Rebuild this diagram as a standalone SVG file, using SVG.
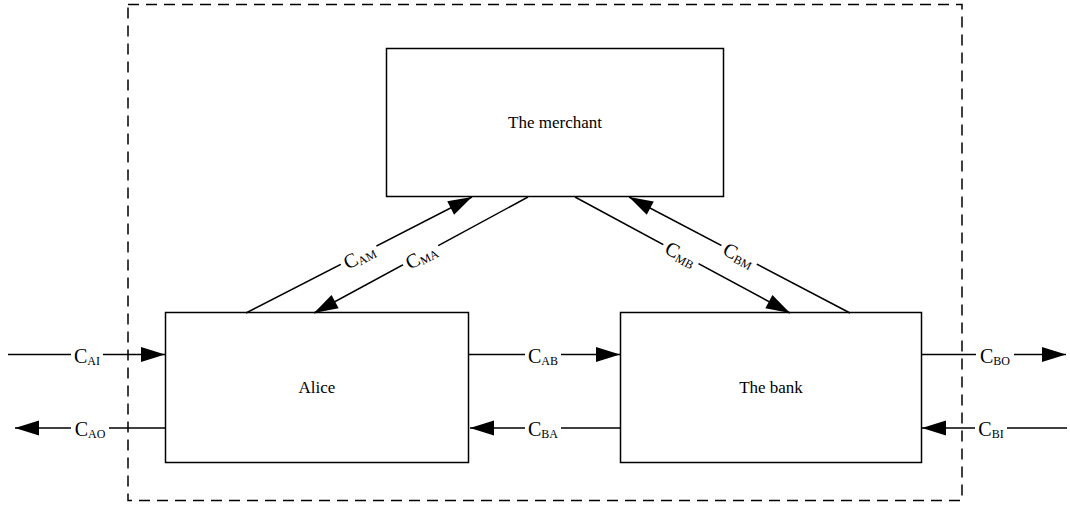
<svg xmlns="http://www.w3.org/2000/svg" width="1070" height="507" viewBox="0 0 1070 507">
<style>
.box{fill:#fff;stroke:#000;stroke-width:1.5}
.ln{fill:none;stroke:#000;stroke-width:1.5}
.arr{marker-end:url(#ah)}
.t{font-family:"Liberation Serif","Times New Roman",serif;font-size:17px;fill:#000;text-anchor:middle}
.lb{font-family:"Liberation Serif","Times New Roman",serif;font-size:20px;fill:#000;text-anchor:middle}
.sub{font-size:12px}
.bg{fill:#fff}
</style>
<defs>
<marker id="ah" markerUnits="userSpaceOnUse" markerWidth="26" markerHeight="16" viewBox="-25 -8 26 16" refX="0" refY="0" orient="auto">
<path d="M0,0 L-24,-7.5 L-24,7.5 Z" fill="#000"/>
</marker>
</defs>
<rect x="128" y="4.5" width="834" height="496" fill="none" stroke="#000" stroke-width="1.5" stroke-dasharray="11,7"/>
<g id="merchant"><rect class="box" x="386.5" y="48.5" width="337" height="148"/><text class="t" x="555" y="128">The merchant</text></g>
<g id="alice"><rect class="box" x="165.5" y="312.5" width="303" height="150"/><text class="t" x="317" y="393">Alice</text></g>
<g id="bank"><rect class="box" x="620.5" y="312.5" width="301" height="150"/><text class="t" x="771" y="393">The bank</text></g>
<g id="connectors">
<path class="ln arr" d="M246,313 L472,197"/>
<path class="ln arr" d="M528,197 L314,313"/>
<path class="ln arr" d="M575,197 L790,313"/>
<path class="ln arr" d="M850,313 L629,197"/>
<path class="ln arr" d="M8,354.5 L165,354.5"/>
<path class="ln arr" d="M165,428 L15,428"/>
<path class="ln arr" d="M468,354.5 L620,354.5"/>
<path class="ln arr" d="M620,428 L470,428"/>
<path class="ln arr" d="M921,354.5 L1066,354.5"/>
<path class="ln arr" d="M1067,428 L922,428"/>
<g transform="translate(359,256) rotate(-27.2)"><rect class="bg" x="-20" y="-9" width="40" height="18"/><text class="lb" x="0" y="7">C<tspan class="sub" dy="2">AM</tspan></text></g>
<g transform="translate(421,256) rotate(-28.5)"><rect class="bg" x="-20" y="-9" width="40" height="18"/><text class="lb" x="0" y="7">C<tspan class="sub" dy="2">MA</tspan></text></g>
<g transform="translate(681,254) rotate(28.4)"><rect class="bg" x="-20" y="-9" width="40" height="18"/><text class="lb" x="0" y="7">C<tspan class="sub" dy="2">MB</tspan></text></g>
<g transform="translate(739,255) rotate(27.7)"><rect class="bg" x="-20" y="-9" width="40" height="18"/><text class="lb" x="0" y="7">C<tspan class="sub" dy="2">BM</tspan></text></g>
<g transform="translate(87,354.5)"><rect class="bg" x="-16" y="-9" width="32" height="18"/><text class="lb" x="0" y="8">C<tspan class="sub" dy="2">AI</tspan></text></g>
<g transform="translate(90,428)"><rect class="bg" x="-19" y="-9" width="38" height="18"/><text class="lb" x="0" y="8">C<tspan class="sub" dy="2">AO</tspan></text></g>
<g transform="translate(543,354.5)"><rect class="bg" x="-18" y="-9" width="36" height="18"/><text class="lb" x="0" y="8">C<tspan class="sub" dy="2">AB</tspan></text></g>
<g transform="translate(543,428)"><rect class="bg" x="-18" y="-9" width="36" height="18"/><text class="lb" x="0" y="8">C<tspan class="sub" dy="2">BA</tspan></text></g>
<g transform="translate(995,354.5)"><rect class="bg" x="-19" y="-9" width="38" height="18"/><text class="lb" x="0" y="8">C<tspan class="sub" dy="2">BO</tspan></text></g>
<g transform="translate(991,428)"><rect class="bg" x="-16" y="-9" width="32" height="18"/><text class="lb" x="0" y="8">C<tspan class="sub" dy="2">BI</tspan></text></g>
</g>
</svg>
